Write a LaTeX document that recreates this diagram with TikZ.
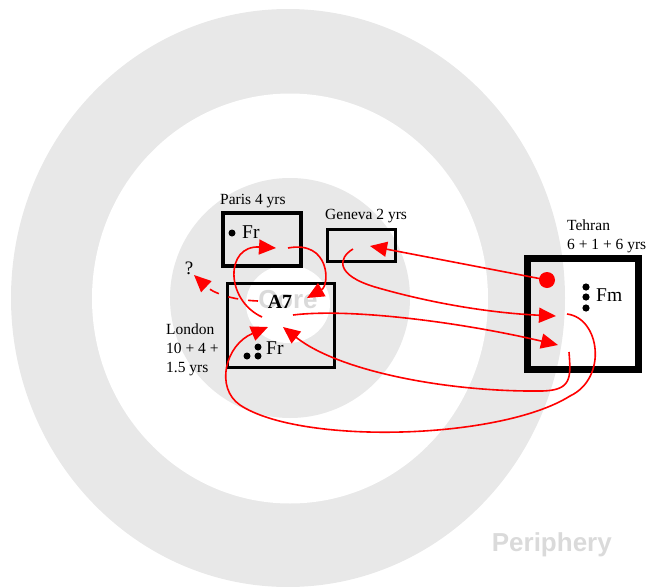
\documentclass[tikz,border=0pt]{standalone}
\usepackage{fontspec}
\setmainfont{Liberation Serif}
\newfontfamily\zonefont{Liberation Sans}
\usepackage{tikz}
\usetikzlibrary{arrows.meta}
\definecolor{ringgray}{RGB}{232,232,232}
\definecolor{zonegray}{RGB}{218,218,218}
\tikzstyle{line} = [draw=red, -{Triangle[length=17pt,width=15pt]}, line width=1.6pt]
\tikzstyle{city} = [draw, line width=3.2pt, inner sep=0pt]
\tikzstyle{lbl} = [inner sep=0pt, align=left, font=\fontsize{15.5}{19}\selectfont]
\tikzstyle{txt} = [inner sep=0pt, font=\fontsize{19.5}{23}\selectfont]
\tikzstyle{zone} = [inner sep=0pt, text=zonegray, font=\zonefont\bfseries\fontsize{26}{30}\selectfont]

\begin{document}
\begin{tikzpicture}[x=1pt,y=-1pt]
	\useasboundingbox (0,0) rectangle (649,587);

	% ------------------- Core and periphery rings ------------------- %
	\fill[ringgray] (288,298) ellipse [x radius=277pt, y radius=289pt];
	\fill[white] (290,298.5) ellipse [x radius=198pt, y radius=205pt];
	\fill[ringgray] (290,298) circle [radius=120pt];
	\fill[white] (288,304) ellipse [x radius=42pt, y radius=39pt];
	\node[zone, anchor=base] (core) at (288,308) {Core};
	\node[zone, anchor=base east] (periphery) at (612,551) {Periphery};

	% ------------------- Cities ------------------- %
	\node[city, minimum width=78pt, minimum height=53pt] (paris) at (262,239.5) {};
	\node[city, minimum width=68pt, minimum height=32pt] (geneva) at (361.5,245.5) {};
	\node[city, minimum width=107pt, minimum height=84pt] (london) at (281,325.5) {};
	\node[city, line width=7pt, minimum width=111pt, minimum height=111pt] (tehran) at (583,314) {};

	\node[lbl, anchor=base west] (paris-lbl) at (220,204) {Paris 4 yrs};
	\node[lbl, anchor=base west] (geneva-lbl) at (325,219) {Geneva 2 yrs};
	\node[lbl, anchor=north west] (london-lbl) at (166,324) {London\\10 + 4 +\\1.5 yrs};
	\node[lbl, anchor=north west] (tehran-lbl) at (567,220) {Tehran\\6 + 1 + 6 yrs};
	\node[lbl, anchor=base, font=\fontsize{19}{23}\selectfont] (unknown) at (189,274) {?};

	% ------------------- People ------------------- %
	\node[anchor=base, inner sep=0pt, font=\bfseries\fontsize{20}{24}\selectfont] (a7) at (280,308) {A7};
	\node[txt, anchor=base west] (paris-fr) at (242,238) {Fr};
	\fill (232,233) circle [radius=3.5pt];
	\node[txt, anchor=base west] (london-fr) at (266,354) {Fr};
	\fill (258,347) circle [radius=3.5pt];
	\fill (247,356) circle [radius=3.5pt];
	\fill (258,356) circle [radius=3.5pt];
	\node[txt, anchor=base west] (tehran-fm) at (596,301) {Fm};
	\fill (586,287) circle [radius=3.6pt];
	\fill (586,297) circle [radius=3.6pt];
	\fill (586,308) circle [radius=3.6pt];
	\node[circle, fill=red, inner sep=0pt, minimum size=16pt] (th-dot) at (547,280) {};

	% ------------------- Moves ------------------- %
	\coordinate (gv-in) at (370,246);
	\coordinate (gv-out) at (353,249);
	\coordinate (th-in1) at (556,316);
	\coordinate (th-in2) at (558,345);
	\coordinate (th-out1) at (567,314);
	\coordinate (th-out2) at (569,352);
	\coordinate (ld-out1) at (293,315);
	\coordinate (ld-out2) at (262,317);
	\coordinate (ld-in1) at (268,327);
	\coordinate (ld-in2) at (283,327);
	\coordinate (ld-in3) at (307,298);
	\coordinate (ld-exit) at (258,301);
	\coordinate (pa-out) at (288,248);
	\coordinate (pa-in) at (276,248);
	\coordinate (unk) at (194,275);

	\draw[line] (th-dot.center) -- (gv-in);
	\draw[line] (gv-out) .. controls (338,258) and (335,275) .. (375,287) .. controls (430,303) and (490,313) .. (th-in1);
	\draw[line] (ld-out1) .. controls (350,308) and (460,322) .. (th-in2);
	\draw[line] (th-out1) .. controls (600,318) and (608,378) .. (570,396) .. controls (500,440) and (300,445) .. (240,405) .. controls (215,388) and (225,345) .. (ld-in1);
	\draw[line] (th-out2) .. controls (571,378) and (572,391) .. (540,391) .. controls (450,392) and (340,372) .. (ld-in2);
	\draw[line] (pa-out) .. controls (330,240) and (330,285) .. (ld-in3);
	\draw[line] (ld-out2) .. controls (225,300) and (225,245) .. (pa-in);
	\draw[line, dash pattern=on 10pt off 10pt] (ld-exit) .. controls (230,300) and (212,292) .. (unk);
\end{tikzpicture}
\end{document}
